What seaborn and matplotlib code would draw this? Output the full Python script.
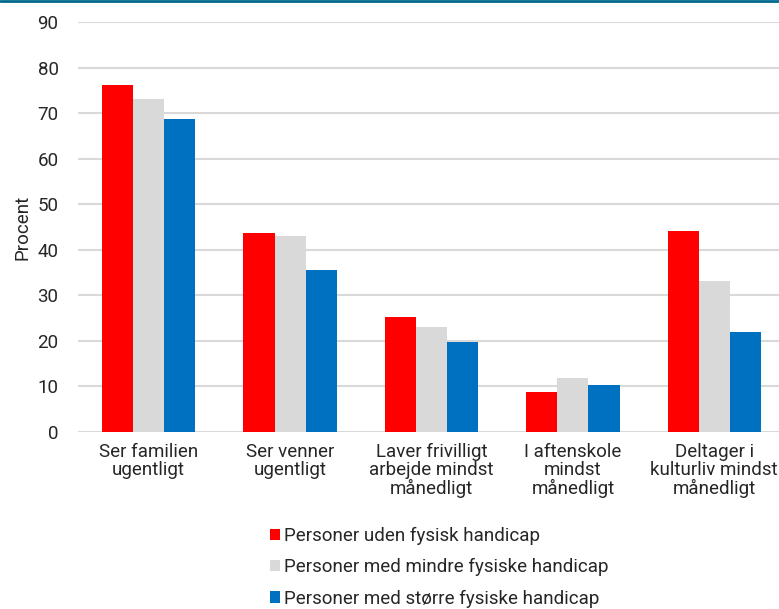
import pandas as pd
import seaborn as sns
import matplotlib.pyplot as plt
from matplotlib.patches import Patch
from matplotlib.lines import Line2D

categories = ["Ser familien\nugentligt", "Ser venner\nugentligt",
              "Laver frivilligt\narbejde mindst\nmånedligt",
              "I aftenskole\nmindst\nmånedligt",
              "Deltager i\nkulturliv mindst\nmånedligt"]
series = ["Personer uden fysisk handicap",
          "Personer med mindre fysiske handicap",
          "Personer med større fysiske handicap"]
uden = [76.2, 43.7, 25.2, 8.8, 44.1]
mindre = [73.1, 43.0, 23.0, 11.9, 33.1]
stoerre = [68.7, 35.6, 19.8, 10.3, 21.9]
colors = ["#ff0000", "#d9d9d9", "#0070c0"]

df = pd.DataFrame({
    "Kategori": categories * 3,
    "Gruppe": [series[0]] * 5 + [series[1]] * 5 + [series[2]] * 5,
    "Procent": uden + mindre + stoerre,
})

sns.set_style("white")
plt.rcParams["font.family"] = ["Roboto", "DejaVu Sans"]
fs = 13.5
txt = "#262626"

fig = plt.figure(figsize=(7.79, 6.09), dpi=100)
ax = fig.add_axes([78 / 779, 1 - 432 / 609, (785 - 78) / 779, (432 - 22) / 609])

sns.barplot(data=df, x="Kategori", y="Procent", hue="Gruppe",
            palette=colors, width=0.66, gap=0, ax=ax, legend=False,
            saturation=1, linewidth=0, zorder=3)

ax.set_ylim(0, 90)
ax.set_yticks(range(0, 91, 10))
ax.set_xlim(-0.5, 4.5)
ax.grid(axis="y", color="#d9d9d9", linewidth=1.5, zorder=0)
ax.set_axisbelow(True)
for s in ax.spines.values():
    s.set_visible(False)
ax.tick_params(axis="y", length=0, pad=14, labelsize=fs, labelcolor=txt)
ax.tick_params(axis="x", length=0, pad=8, labelsize=fs, labelcolor=txt)
for lbl in ax.get_xticklabels():
    lbl.set_linespacing(1.0)
ax.set_xlabel("")
ax.set_ylabel("Procent", fontsize=fs, color=txt, labelpad=4)

handles = [Patch(facecolor=c, edgecolor="none") for c in colors]
fig.legend(handles, series, loc="upper left", bbox_to_anchor=(270 / 779, 1 - 527 / 609),
           frameon=False, fontsize=fs, handlelength=0.55, handleheight=0.55,
           handletextpad=0.2, labelspacing=0.7, borderaxespad=0, borderpad=0,
           labelcolor=txt)

fig.add_artist(Line2D([0, 1], [1 - 1 / 609, 1 - 1 / 609], color="#006a8e",
                      linewidth=2, transform=fig.transFigure))

fig.savefig("out.png", dpi=100)
